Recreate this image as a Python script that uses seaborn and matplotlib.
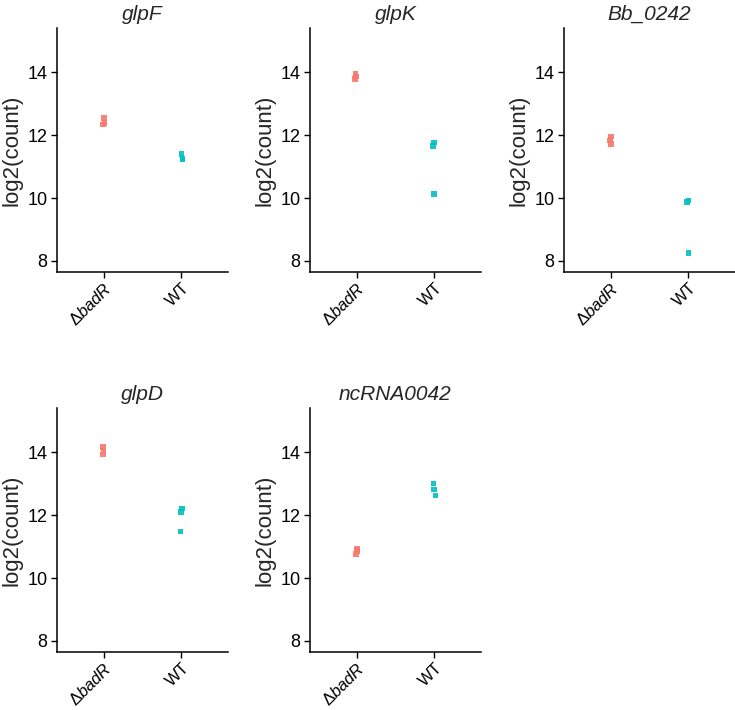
import numpy as np
import pandas as pd
import matplotlib
matplotlib.use("Agg")
import matplotlib.pyplot as plt
import seaborn as sns

genes = ["glpF", "glpK", "Bb_0242", "glpD", "ncRNA0042"]
conditions = ["ΔbadR", "WT"]
tick_labels = ["Δ$\\mathit{badR}$", "WT"]
y_ticks = [8, 10, 12, 14]

mut_values = {
    "glpF": [12.55, 12.38, 12.33],
    "glpK": [13.95, 13.86, 13.78],
    "Bb_0242": [11.95, 11.83, 11.72],
    "glpD": [14.17, 14.05, 13.92],
    "ncRNA0042": [10.93, 10.85, 10.77],
}
wt_values = {
    "glpF": [11.39, 11.25, 11.22],
    "glpK": [11.76, 11.66, 10.12],
    "Bb_0242": [9.92, 9.87, 8.25],
    "glpD": [12.21, 12.09, 11.48],
    "ncRNA0042": [13.00, 12.81, 12.62],
}
palette = {"ΔbadR": "#F8766D", "WT": "#00BFC4"}

rows = []
for g in genes:
    for v in mut_values[g]:
        rows.append((g, "ΔbadR", v))
    for v in wt_values[g]:
        rows.append((g, "WT", v))
df = pd.DataFrame(rows, columns=["gene", "condition", "count"])

sns.set_style("ticks")
plt.rcParams["font.family"] = ["Liberation Sans", "DejaVu Sans"]
plt.rcParams["mathtext.fontset"] = "custom"
plt.rcParams["mathtext.it"] = "Liberation Sans:italic"
plt.rcParams["mathtext.rm"] = "Liberation Sans"

W, H = 735, 710
fig = plt.figure(figsize=(W / 100, H / 100), dpi=100)

lefts = [57, 310, 564]
pw = 171
tops = [28, 408]
ph = 244

np.random.seed(3)
for i, g in enumerate(genes):
    r, c = divmod(i, 3)
    ax = fig.add_axes([lefts[c] / W, 1 - (tops[r] + ph) / H, pw / W, ph / H])
    sub = df[df["gene"] == g]
    sns.stripplot(data=sub, x="condition", y="count", hue="condition",
                  order=conditions, hue_order=conditions, palette=palette,
                  marker="s", size=4.0, linewidth=0, jitter=0.02, alpha=0.9,
                  legend=False, ax=ax)
    ax.set_xlim(-0.6, 1.6)
    ax.set_ylim(7.65, 15.4)
    ax.set_yticks(y_ticks)
    ax.set_yticklabels([str(t) for t in y_ticks])
    ax.set_xticks([0, 1])
    ax.set_xticklabels(tick_labels, rotation=45, ha="right", rotation_mode="anchor")
    ax.set_xlabel("")
    ax.set_ylabel("log2(count)", fontsize=16, labelpad=3)
    ax.set_title(g, fontsize=15, style="italic", pad=6)
    ax.tick_params(axis="y", labelsize=13, length=4, width=1, color="black",
                   labelcolor="black", pad=3)
    ax.tick_params(axis="x", labelsize=12, length=4, width=1, color="black",
                   labelcolor="black", pad=2)
    for s in ["top", "right"]:
        ax.spines[s].set_visible(False)
    for s in ["left", "bottom"]:
        ax.spines[s].set_linewidth(1.1)
        ax.spines[s].set_color("black")

fig.savefig("out.png", dpi=100, facecolor="white")
